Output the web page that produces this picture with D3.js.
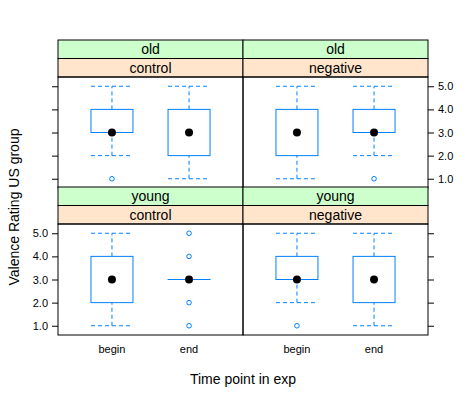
<!DOCTYPE html>
<html><head><meta charset="utf-8">
<script src="https://cdn.jsdelivr.net/npm/d3@7"></script>
<style>body{margin:0;background:#fff}text{font-family:"Liberation Sans",Arial,sans-serif}</style>
</head><body><svg id="svg" width="473" height="400"></svg>
<script>
// panel layout: rows top→bottom, cols left→right
var ages = ["old", "young"];
var conditions = ["control", "negative"];
var timepoints = ["begin", "end"];
var yTicks = [1, 2, 3, 4, 5];
// stats per panel, per timepoint: [lowWhisker, q1, median, q3, highWhisker]
var stats = {
  "old|control":   [[2, 3, 3, 4, 5], [1, 2, 3, 4, 5]],
  "old|negative":  [[1, 2, 3, 4, 5], [2, 3, 3, 4, 5]],
  "young|control": [[1, 2, 3, 4, 5], [3, 3, 3, 3, 3]],
  "young|negative":[[2, 3, 3, 4, 5], [1, 2, 3, 4, 5]]
};
var outliers = {
  "old|control":   [[1], []],
  "old|negative":  [[], [1]],
  "young|control": [[], [1, 2, 4, 5]],
  "young|negative":[[1], []]
};

var svg = d3.select("#svg");
var L = 58, R = 428, colW = (R - L) / 2;
var rowTop = [40, 187], stripH = 18.5, panelH = 111;
var blue = "#0080ff";

var x = d3.scaleBand().domain(timepoints).range([0, colW]).paddingInner(0.1).paddingOuter(0.25);

ages.forEach(function(age, r) {
  conditions.forEach(function(cond, c) {
    var key = age + "|" + cond;
    var px = L + c * colW, top = rowTop[r], py = top + 2 * stripH;
    var y = d3.scaleLinear().domain([0.6, 5.4]).range([py + panelH, py]);
    var g = svg.append("g");
    // strips
    [[age, "#ccffcc"], [cond, "#ffe5cc"]].forEach(function(s, i) {
      g.append("rect").attr("x", px).attr("y", top + i * stripH).attr("width", colW).attr("height", stripH)
        .attr("fill", s[1]).attr("stroke", "#000");
      g.append("text").attr("x", px + colW / 2).attr("y", top + i * stripH + 14).attr("text-anchor", "middle")
        .attr("font-size", 14).text(s[0]);
    });
    g.append("rect").attr("x", px).attr("y", py).attr("width", colW).attr("height", panelH)
      .attr("fill", "none").attr("stroke", "#000");

    timepoints.forEach(function(t, j) {
      var s = stats[key][j];
      var cx = px + x(t) + x.bandwidth() / 2, bw = 42;
      var dash = "4,3";
      // whiskers
      [[s[0], s[1]], [s[3], s[4]]].forEach(function(w) {
        if (w[0] === w[1]) return;
        g.append("line").attr("x1", cx).attr("x2", cx).attr("y1", y(w[0])).attr("y2", y(w[1]))
          .attr("stroke", blue).attr("stroke-dasharray", dash);
      });
      [s[0], s[4]].forEach(function(v) {
        if (s[0] === s[4]) return;
        g.append("line").attr("x1", cx - bw / 2).attr("x2", cx + bw / 2).attr("y1", y(v)).attr("y2", y(v))
          .attr("stroke", blue).attr("stroke-dasharray", dash);
      });
      g.append("rect").attr("x", cx - bw / 2).attr("width", bw).attr("y", y(s[3]))
        .attr("height", Math.max(y(s[1]) - y(s[3]), 0.01)).attr("fill", "none").attr("stroke", blue);
      if (s[1] === s[3]) {
        g.append("line").attr("x1", cx - bw / 2).attr("x2", cx + bw / 2).attr("y1", y(s[2])).attr("y2", y(s[2]))
          .attr("stroke", blue);
      }
      g.append("circle").attr("cx", cx).attr("cy", y(s[2])).attr("r", 4).attr("fill", "#000");
      outliers[key][j].forEach(function(o) {
        g.append("circle").attr("cx", cx).attr("cy", y(o)).attr("r", 2.3).attr("fill", "none").attr("stroke", blue);
      });
    });

    // y axes
    if (c === 0) {
      var ax = d3.axisLeft(y).tickValues(yTicks).tickSizeOuter(0).tickSize(6).tickPadding(4);
      if (r === 0) ax.tickFormat("");
      var ga = g.append("g").attr("transform", "translate(" + px + ",0)").call(ax);
      ga.select(".domain").remove();
      ga.selectAll("text").attr("font-size", 11).attr("font-family", "Liberation Sans, Arial, sans-serif");
    } else {
      var ax2 = d3.axisRight(y).tickValues(yTicks).tickSizeOuter(0).tickSize(6).tickPadding(4);
      if (r === 1) ax2.tickFormat("");
      var gb = g.append("g").attr("transform", "translate(" + (px + colW) + ",0)").call(ax2);
      gb.select(".domain").remove();
      gb.selectAll("text").attr("font-size", 11).attr("font-family", "Liberation Sans, Arial, sans-serif");
    }
    // x axis labels on bottom row
    if (r === 1) {
      var xa = d3.axisBottom(x).tickSize(0).tickPadding(10);
      var gx = g.append("g").attr("transform", "translate(" + px + "," + (py + panelH) + ")").call(xa);
      gx.select(".domain").remove();
      gx.selectAll("text").attr("font-size", 11).attr("font-family", "Liberation Sans, Arial, sans-serif");
    }
  });
});

svg.append("text").attr("x", (L + R) / 2).attr("y", 384).attr("text-anchor", "middle").attr("font-size", 14)
  .text("Time point in exp");
svg.append("text").attr("transform", "translate(19,207) rotate(-90)").attr("text-anchor", "middle")
  .attr("font-size", 14).text("Valence Rating US group");
</script></body></html>
